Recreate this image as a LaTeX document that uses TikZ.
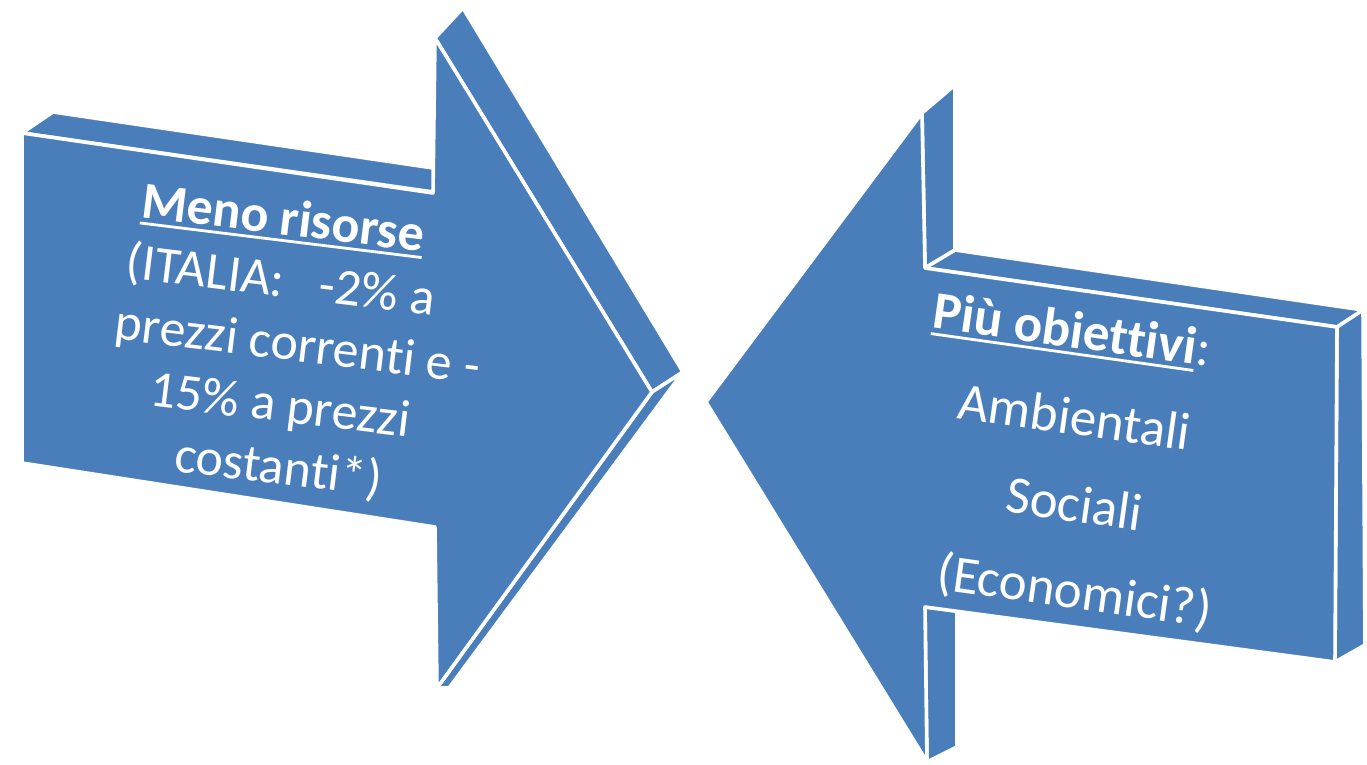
\documentclass[tikz,border=0pt]{standalone}
\usepackage{fontspec}
\setmainfont{Carlito}[Ligatures={NoCommon,NoContextual},RawFeature={-liga;-clig;-calt;-dlig}]
\definecolor{arrowblue}{HTML}{4A7EBB}
\newcommand\myul[1]{\vtop{\hbox{#1}\kern2pt\hrule height 1.4pt}}
\tikzset{
  face/.style={fill=arrowblue, draw=white, line width=1.8pt, line join=round},
  ltext/.style={text=white, inner sep=0pt, align=center, rotate=-7, font=\fontsize{26}{31}\selectfont},
  rtext/.style={text=white, inner sep=0pt, align=center, rotate=-8, font=\fontsize{26.5}{43}\selectfont}
}
\begin{document}
\begin{tikzpicture}[x=0.5pt,y=-0.5pt]
\path[use as bounding box] (0,0) rectangle (1367,765);

% ---------- left arrow (pointing right) ----------
\draw[face] (22,133) -- (53,112) -- (440,169) -- (440,193) -- cycle;
\draw[face] (435,38) -- (463,8) -- (683,372) -- (652,392) -- cycle;
\draw[face] (652,392) -- (683,372) -- (449,688) -- (437,688) -- cycle;
\draw[face] (22,133) -- (433,193) -- (435,38) -- (652,392) -- (437,688)
  -- (435,527) -- (22,463) -- cycle;

% ---------- right arrow (pointing left) ----------
\draw[face] (922,113) -- (955,85) -- (955,250) -- (925,268) -- cycle;
\draw[face] (925,268) -- (955,250) -- (1363,310) -- (1337,327) -- cycle;
\draw[face] (1337,327) -- (1363,310) -- (1365,645) -- (1335,662) -- cycle;
\draw[face] (925,607) -- (957,611) -- (957,747) -- (927,762) -- cycle;
\draw[face] (706,402) -- (922,113) -- (925,268) -- (1337,327) -- (1335,662)
  -- (925,607) -- (927,762) -- cycle;

% ---------- texts ----------
\node[ltext] (ltxt) at (284,345) {%
  \hspace*{-16pt}\myul{\bfseries Meno risorse}\\
  \hspace*{-11pt}(ITALIA:\ \ \ -2\% a\\
  \hspace*{13.8pt}prezzi correnti e -\\
  \hspace*{3.6pt}15\% a prezzi\\
  \hspace*{9.4pt}costanti*)};

\node[rtext] (rtxt) at (1073.5,463) {%
  \hspace*{-19.7pt}\myul{\bfseries Più obiettivi}:\\
  \hspace*{-5.5pt}Ambientali\\
  \hspace*{6.4pt}Sociali\\
  \hspace*{18.8pt}(Economici?)};
\end{tikzpicture}
\end{document}
